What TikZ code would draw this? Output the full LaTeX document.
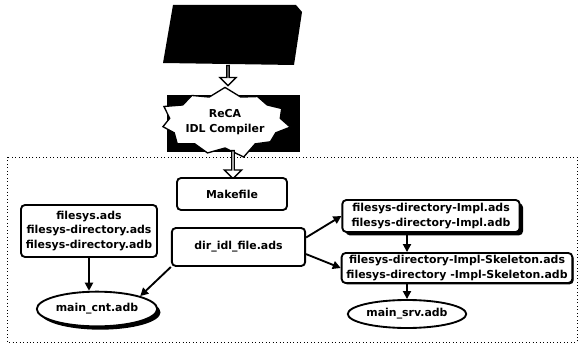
\documentclass[tikz,border=0pt]{standalone}
\usepackage{fontspec}
\setmainfont{DejaVu Sans}
\usetikzlibrary{shapes.geometric,shapes.symbols,shapes.arrows,shadows,arrows.meta}

\begin{document}
\begin{tikzpicture}[x=0.75pt,y=-0.75pt,
    every node/.style={font=\fontsize{8.2}{11}\selectfont\bfseries, align=center, inner sep=1pt},
    file/.style={draw, rounded corners=3pt, line width=1.4pt, fill=white},
    prog/.style={draw, ellipse, line width=1.4pt, fill=white},
    hollow/.style={draw, fill=white, single arrow, shape border rotate=270, line width=1pt,
      minimum width=12pt, single arrow head extend=3pt, inner sep=0pt},
    link/.style={-{Triangle[length=6pt,width=6pt]}, line width=1.4pt},
    shade/.style={drop shadow={shadow xshift=2.5pt, shadow yshift=-2.5pt, fill=black, opacity=1}}]

    \useasboundingbox (0,0) rectangle (584,345);

    % Frame round the generated files
    \draw[dotted, line width=0.6pt] (7,157) rectangle (577,342);

    % IDL input and the compiler
    \fill (173,5) -- (296,5) -- (302,12) -- (294,65) -- (163,63) -- cycle;
    \node[fill=black, minimum width=100pt, minimum height=43pt, inner sep=0pt] (back) at (233.5,123.5) {};
    \node[starburst, draw, fill=white, line width=1pt, starburst points=11, starburst point height=9pt,
      minimum width=96pt, minimum height=57pt, inner sep=0pt] (comp) at (225,122) {ReCA\\IDL Compiler};

    \node[hollow, minimum height=15pt] (in) at (228,75) {};
    \node[hollow, minimum width=13pt, minimum height=21pt] (out) at (233,164) {};

    % Generated files
    \node[file, minimum width=82.5pt, minimum height=24pt] (make) at (232,194) {Makefile};
    \node[file, minimum width=102pt, minimum height=39pt] (fsys) at (89,231)
      {filesys.ads\\filesys-directory.ads\\filesys-directory.adb};
    \node[file, minimum width=100pt, minimum height=28.5pt] (dir) at (238.5,247) {dir\_idl\_file.ads};
    \node[file, shade, minimum width=133pt, minimum height=24pt] (impl) at (431,216)
      {filesys-directory-Impl.ads\\filesys-directory-Impl.adb};
    \node[file, drop shadow={shadow xshift=1pt, shadow yshift=-1pt, fill=black, opacity=1},
      minimum width=173pt, minimum height=22.5pt, inner sep=0.5pt] (skel) at (457,268)
      {filesys-directory-Impl-Skeleton.ads\\filesys-directory -Impl-Skeleton.adb};

    % Main programs
    \node[prog, shade, minimum width=79pt, minimum height=26pt] (cnt) at (97,309) {main\_cnt.adb};
    \node[prog, minimum width=82pt, minimum height=21pt] (srv) at (407,314) {main\_srv.adb};

    % Dependencies
    \draw[link] (fsys.south) -- (fsys.south |- cnt.north);
    \draw[link] (dir.south west) -- (cnt.north east);
    \draw[link] (dir.8) -- (impl.west);
    \draw[link] (dir.-6) -- (skel.west);
    \draw[link] (srv |- impl.south) -- (srv |- skel.north);
    \draw[link] (srv |- skel.south) -- (srv.north);

\end{tikzpicture}
\end{document}
